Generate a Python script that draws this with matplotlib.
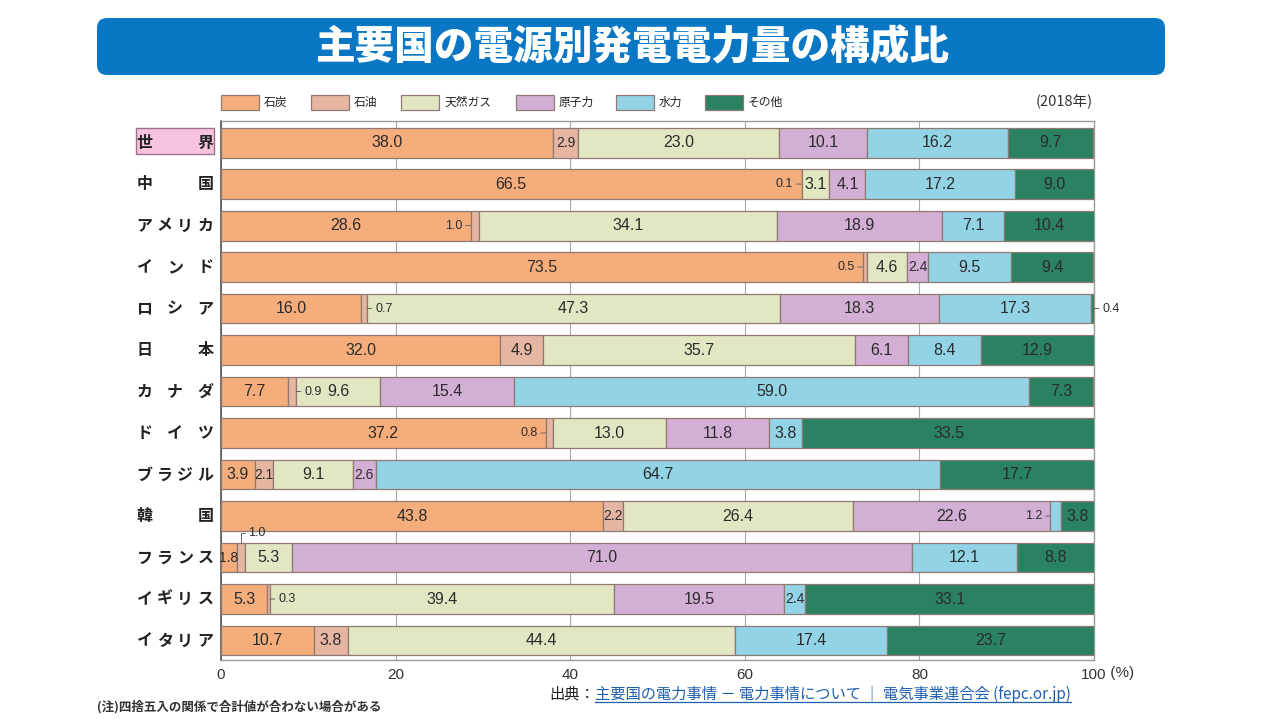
import matplotlib
matplotlib.use('Agg')
import matplotlib.pyplot as plt
import numpy as np
from matplotlib.patches import FancyBboxPatch, Rectangle
import matplotlib.transforms as mtransforms

# ---------------- data ----------------
countries = ['世界', '中国', 'アメリカ', 'インド', 'ロシア', '日本', 'カナダ',
             'ドイツ', 'ブラジル', '韓国', 'フランス', 'イギリス', 'イタリア']
sources = ['石炭', '石油', '天然ガス', '原子力', '水力', 'その他']
coal    = [38.0, 66.5, 28.6, 73.5, 16.0, 32.0, 7.7, 37.2, 3.9, 43.8, 1.8, 5.3, 10.7]
oil     = [2.9, 0.1, 1.0, 0.5, 0.7, 4.9, 0.9, 0.8, 2.1, 2.2, 1.0, 0.3, 3.8]
gas     = [23.0, 3.1, 34.1, 4.6, 47.3, 35.7, 9.6, 13.0, 9.1, 26.4, 5.3, 39.4, 44.4]
nuclear = [10.1, 4.1, 18.9, 2.4, 18.3, 6.1, 15.4, 11.8, 2.6, 22.6, 71.0, 19.5, 0.0]
hydro   = [16.2, 17.2, 7.1, 9.5, 17.3, 8.4, 59.0, 3.8, 64.7, 1.2, 12.1, 2.4, 17.4]
other   = [9.7, 9.0, 10.4, 9.4, 0.4, 12.9, 7.3, 33.5, 17.7, 3.8, 8.8, 33.1, 23.7]
xticks = [0, 20, 40, 60, 80, 100]
title = '主要国の電源別発電電力量の構成比'
year_label = '(2018年)'
note = '(注)四捨五入の関係で合計値が合わない場合がある'
source_prefix = '出典：'
source_link = '主要国の電力事情 － 電力事情について ｜ 電気事業連合会 (fepc.or.jp)'

# ---------------- styles ----------------
colors = ['#F4AD7B', '#E7B6A3', '#E3E6C2', '#D4AFD5', '#93D3E6', '#2A8262']
edge = '#8E7A72'
FJ = ['Noto Sans CJK JP', 'DejaVu Sans']
FN = ['Liberation Sans', 'Noto Sans CJK JP']

# small-value labels placed with leader lines: (row, segment) -> placement
callouts = {(1, 1): 'left', (2, 1): 'left', (3, 1): 'left', (7, 1): 'left', (9, 4): 'left',
            (4, 1): 'right', (6, 1): 'right', (11, 1): 'right', (4, 5): 'right',
            (10, 1): 'above'}

W, H = 1280, 720
fig = plt.figure(figsize=(12.8, 7.2), dpi=100)
fig.patch.set_facecolor('white')

# overlay axes in pixel coordinates for decorations
ov = fig.add_axes([0, 0, 1, 1], zorder=0)
ov.set_xlim(0, W)
ov.set_ylim(H, 0)
ov.axis('off')
ov.patch.set_alpha(0)

# main axes: left 221px, right 1094px, top 121px, bottom 660px
L, R, T, B = 221, 1094, 121, 660
ax = fig.add_axes([L / W, 1 - B / H, (R - L) / W, (B - T) / H], zorder=2)
ax.patch.set_alpha(0)

data = np.array([coal, oil, gas, nuclear, hydro, other])
n = len(countries)
y = np.arange(n)
left = np.zeros(n)
bh = 0.72
for k in range(len(sources)):
    ax.barh(y, data[k], left=left, height=bh, color=colors[k], edgecolor=edge,
            linewidth=0.9, zorder=3, label=sources[k])
    for i in range(n):
        v = data[k][i]
        if v <= 0:
            continue
        cx = left[i] + v / 2
        place = callouts.get((i, k))
        lab = f'{v:.1f}'
        if place is None:
            fs = 10 if v < 3 else 11.5
            ax.text(cx, y[i], lab, ha='center', va='center', fontsize=fs,
                    color='#2b2b2b', family=FN, zorder=5)
        elif place == 'left':
            ax.annotate(lab, xy=(left[i], y[i]), xytext=(-6, 0), textcoords='offset points',
                        ha='right', va='center', fontsize=9, color='#2b2b2b', family=FN,
                        arrowprops=dict(arrowstyle='-', color='#666', lw=0.7,
                                        shrinkA=0.5, shrinkB=0), zorder=5)
        elif place == 'right':
            ax.annotate(lab, xy=(left[i] + v, y[i]), xytext=(6, 0), textcoords='offset points',
                        ha='left', va='center', fontsize=9, color='#2b2b2b', family=FN,
                        arrowprops=dict(arrowstyle='-', color='#666', lw=0.7,
                                        shrinkA=0.5, shrinkB=0), zorder=5,
                        annotation_clip=False)
        elif place == 'above':
            ax.annotate(lab, xy=(cx, y[i] - bh / 2), xytext=(5, 7), textcoords='offset points',
                        ha='left', va='center', fontsize=9, color='#2b2b2b', family=FN,
                        arrowprops=dict(arrowstyle='-', color='#666', lw=0.7, shrinkA=0.5,
                                        shrinkB=0,
                                        connectionstyle='angle,angleA=180,angleB=90,rad=0'),
                        zorder=5)
    left = left + data[k]

ax.set_xlim(0, 100)
ax.set_ylim(n - 1 + 0.47, -0.52)
ax.set_yticks([])
ax.set_xticks(xticks)
ax.set_xticklabels([str(t) for t in xticks], fontsize=11, color='#333', family=FN)
ax.tick_params(axis='x', length=0, pad=6)
ax.grid(axis='x', color='#A8A8A8', lw=0.8, zorder=1)
for s in ['top', 'right', 'bottom']:
    ax.spines[s].set_color('#9a9a9a')
    ax.spines[s].set_linewidth(1.0)
ax.spines['left'].set_color('#555')
ax.spines['left'].set_linewidth(1.2)
ax.text(1.0, 0, ' (%)', transform=mtransforms.offset_copy(ax.transAxes, fig=fig, x=12, y=-13, units='dots'),
        ha='left', va='center', fontsize=11, color='#333', family=FN)

# country labels (distributed between 137px and 213px)
blend = mtransforms.blended_transform_factory(ov.transData, ax.transData)
lx0, lx1 = 137, 213
for i, name in enumerate(countries):
    chars = list(name)
    m = len(chars)
    cw = 15
    for j, ch in enumerate(chars):
        if m == 1:
            xc = (lx0 + lx1) / 2
        else:
            xc = lx0 + cw / 2 + j * (lx1 - lx0 - cw) / (m - 1)
        ax.text(xc, y[i], ch, transform=blend, ha='center', va='center', fontsize=11.5,
                fontweight='bold', color='#222', family=FJ)
    if i == 0:
        ov.add_patch(Rectangle((136, 128), 78, 26, facecolor='#F6C3DD', edgecolor='#A0708A',
                               lw=1.0, zorder=1))

# title bar
ov.add_patch(FancyBboxPatch((97, 18), 1068, 57, boxstyle='round,pad=0,rounding_size=10',
                            facecolor='#0A77C5', edgecolor='none', zorder=1))
ov.text(632, 47, title, ha='center', va='center', fontsize=28.5, fontweight='heavy',
        color='white', family=FJ, zorder=3)

# legend
leg_x = [221, 311, 401, 516, 616, 705]
for k, name in enumerate(sources):
    ov.add_patch(Rectangle((leg_x[k], 95), 38, 15, facecolor=colors[k], edgecolor=edge,
                           lw=0.9, zorder=2))
    ov.text(leg_x[k] + 43, 102.5, name, ha='left', va='center', fontsize=8.5,
            color='#222', family=FJ, zorder=3)
ov.text(1093, 102, year_label, ha='right', va='center', fontsize=10.5, color='#333', family=FJ)

# footer
ov.text(97, 707, note, ha='left', va='center', fontsize=9, fontweight='bold',
        color='#333', family=FJ)
t1 = ov.text(549, 694, source_prefix, ha='left', va='center', fontsize=11, color='#222', family=FJ)
fig.canvas.draw()
bb = t1.get_window_extent()
x_link = bb.x1
t2 = ov.text(x_link, 694, source_link, ha='left', va='center', fontsize=11, color='#1F5FAF',
             family=FJ, transform=mtransforms.blended_transform_factory(mtransforms.IdentityTransform(), ov.transData))
fig.canvas.draw()
bb2 = t2.get_window_extent()
ov.plot([bb2.x0, bb2.x1], [bb2.y0 + 1, bb2.y0 + 1], color='#1F5FAF', lw=0.9,
        transform=mtransforms.IdentityTransform())

fig.savefig('out.png', dpi=100, facecolor='white')
